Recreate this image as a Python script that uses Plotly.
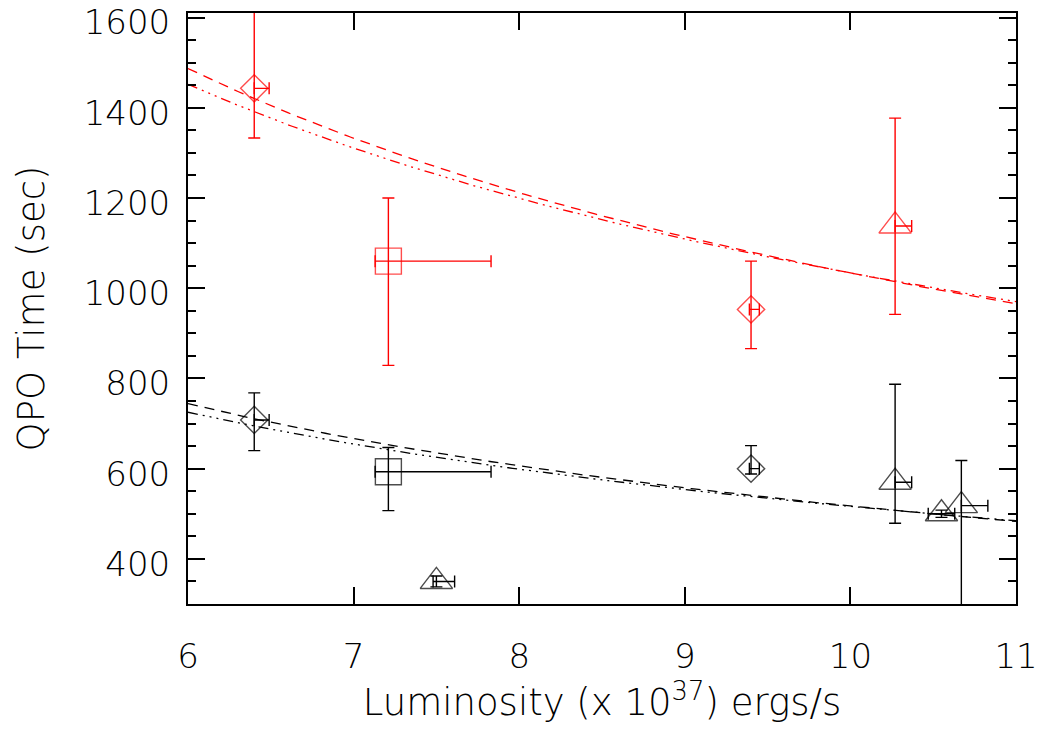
import numpy as np
import plotly.graph_objects as go

# ---- data ----
# Red series (upper branch)
red_L      = [6.40, 7.21, 9.40, 10.27]
red_T      = [1443, 1060, 953, 1138]
red_T_up   = [200, 140, 107, 239]
red_T_dn   = [110, 231, 87, 196]
red_L_up   = [0.09, 0.62, 0.05, 0.10]
red_L_dn   = [0.00, 0.08, 0.01, 0.00]
red_sym    = ["diamond-open", "square-open", "diamond-open", "triangle-up-open"]

# Black series (lower branch)
blk_L      = [6.40, 7.21, 7.50, 9.40, 10.27, 10.55, 10.67]
blk_T      = [708, 593, 350, 600, 570, 500, 518]
blk_T_up   = [60, 54, 12, 51, 217, 8, 100]
blk_T_dn   = [68, 86, 12, 12, 91, 8, 250]
blk_L_up   = [0.09, 0.62, 0.11, 0.05, 0.10, 0.08, 0.16]
blk_L_dn   = [0.00, 0.08, 0.02, 0.01, 0.00, 0.08, 0.00]
blk_sym    = ["diamond-open", "square-open", "triangle-up-open", "diamond-open",
              "triangle-up-open", "triangle-up-open", "triangle-up-open"]

# Power-law fit curves  T = T6 * (L/6)^(-index)
fit_index_dashed  = 0.712
fit_index_dashdot = 0.665
red_T6_dashed, red_T6_dashdot = 1487, 1452
blk_T6_dashed, blk_T6_dashdot = 744, 725

x_ticks = [6, 7, 8, 9, 10, 11]
y_ticks = [400, 600, 800, 1000, 1200, 1400, 1600]

FONT = "DejaVu Sans"
W = 200
Lfit = np.linspace(6, 11, 200)

def fit(T6, idx):
    return T6 * (Lfit / 6.0) ** (-idx)

fig = go.Figure()

DASHED = "10px,7px"
DASHDOT = "10px,5px,2px,5px,2px,5px,2px,5px"

for color, T6d, T6dd in [("#ff0000", red_T6_dashed, red_T6_dashdot),
                         ("#000000", blk_T6_dashed, blk_T6_dashdot)]:
    fig.add_trace(go.Scatter(x=Lfit, y=fit(T6d, fit_index_dashed), mode="lines",
                             line=dict(color=color, width=1.3, dash=DASHED),
                             showlegend=False, hoverinfo="skip"))
    fig.add_trace(go.Scatter(x=Lfit, y=fit(T6dd, fit_index_dashdot), mode="lines",
                             line=dict(color=color, width=1.3, dash=DASHDOT),
                             showlegend=False, hoverinfo="skip"))

def sizes(symbols):
    out = []
    for s in symbols:
        if s.startswith("diamond"):
            out.append(21)
        elif s.startswith("square"):
            out.append(26)
        else:
            out.append(28)
    return out

for color, L, T, tu, td, lu, ld, sym in [
        ("#ff0000", red_L, red_T, red_T_up, red_T_dn, red_L_up, red_L_dn, red_sym),
        ("#000000", blk_L, blk_T, blk_T_up, blk_T_dn, blk_L_up, blk_L_dn, blk_sym)]:
    fig.add_trace(go.Scatter(
        x=L, y=T, mode="markers",
        marker=dict(symbol=sym, size=sizes(sym), color=color,
                    line=dict(color=color, width=1.4)),
        error_y=dict(type="data", symmetric=False, array=tu, arrayminus=td,
                     color=color, thickness=1.4, width=6),
        error_x=dict(type="data", symmetric=False, array=lu, arrayminus=ld,
                     color=color, thickness=1.4, width=6),
        showlegend=False))

fig.update_layout(
    width=1037, height=733,
    margin=dict(l=188, r=21, t=13, b=129),
    paper_bgcolor="white", plot_bgcolor="white",
    font=dict(family=FONT, size=30, color="black", weight=W),
    showlegend=False,
)

fig.update_xaxes(
    range=[6, 11], tickvals=x_ticks, ticktext=[str(v) for v in x_ticks],
    ticks="inside", ticklen=17, tickwidth=1.5, tickcolor="black",
    showline=True, linecolor="black", linewidth=2, mirror="allticks",
    showgrid=False, zeroline=False, automargin=False,
    ticklabeloverflow="allow",
    tickfont=dict(family=FONT, size=34, weight=W),
    ticklabelstandoff=21,
    title=dict(text="Luminosity (x 10<sup>37</sup>) ergs/s",
               font=dict(family=FONT, size=37, weight=W), standoff=12),
)
fig.update_yaxes(
    range=[300, 1610], tickvals=y_ticks, ticktext=[str(v) for v in y_ticks],
    ticks="inside", ticklen=17, tickwidth=1.5, tickcolor="black",
    minor=dict(dtick=50, ticks="inside", ticklen=8, tickwidth=1.5, tickcolor="black"),
    showline=True, linecolor="black", linewidth=2, mirror="allticks",
    showgrid=False, zeroline=False, automargin=False,
    ticklabeloverflow="allow",
    tickfont=dict(family=FONT, size=34, weight=W),
    ticklabelstandoff=9, ticklabelshift=5,
    title=dict(text="QPO Time (sec)",
               font=dict(family=FONT, size=37, weight=W), standoff=28),
)

fig.write_html("out.html", config={"displayModeBar": False},
               post_script="document.body.style.margin='0';")
